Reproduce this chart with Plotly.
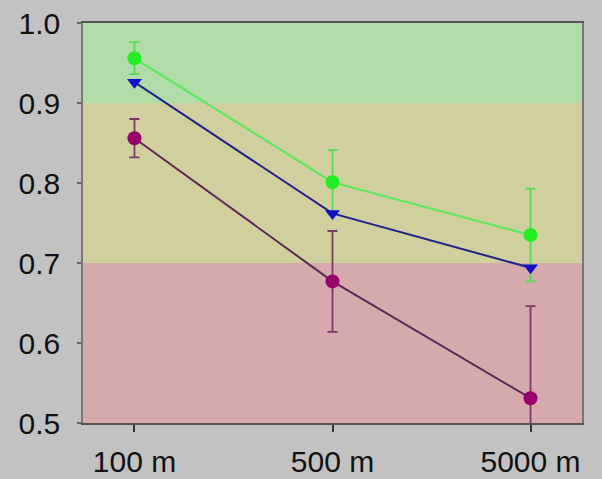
import plotly.graph_objects as go

# Distance categories
distances = ["100 m", "500 m", "5000 m"]

# Series means and error half-widths
green_vals = [0.956, 0.801, 0.735]
green_err = [0.020, 0.040, 0.058]
blue_vals = [0.926, 0.762, 0.694]
purple_vals = [0.856, 0.677, 0.531]
purple_err = [0.024, 0.063, 0.115]

# Score bands (lower, upper, colour)
band_lo = [0.9, 0.7, 0.5]
band_hi = [1.0, 0.9, 0.7]
band_colors = ["#b0dca8", "#d0d09e", "#d6aaad"]

y_ticks = [0.5, 0.6, 0.7, 0.8, 0.9, 1.0]

fig = go.Figure()

fig.add_trace(go.Scatter(
    x=distances, y=purple_vals, mode="lines+markers",
    line=dict(color="#5c2a55", width=2),
    marker=dict(symbol="circle", size=14, color="#99006b"),
    error_y=dict(type="data", array=purple_err, color="#7a3a66", thickness=1.8, width=5),
    showlegend=False,
))
fig.add_trace(go.Scatter(
    x=distances, y=green_vals, mode="lines+markers",
    line=dict(color="#5fe85f", width=2.2),
    marker=dict(symbol="circle", size=14, color="#22ee22"),
    error_y=dict(type="data", array=green_err, color="#55dd55", thickness=1.8, width=5),
    showlegend=False,
))
fig.add_trace(go.Scatter(
    x=distances, y=blue_vals, mode="lines+markers",
    line=dict(color="#22228a", width=2),
    marker=dict(symbol="triangle-down", size=13, color="#1010c8"),
    showlegend=False,
))

for lo, hi, c in zip(band_lo, band_hi, band_colors):
    fig.add_shape(type="rect", xref="paper", yref="y", x0=0, x1=1, y0=lo, y1=hi,
                  fillcolor=c, line=dict(width=0), layer="below")

fig.update_layout(
    width=602, height=479,
    margin=dict(l=83, r=20, t=23, b=56),
    paper_bgcolor="#c2c2c2",
    plot_bgcolor="#c2c2c2",
    font=dict(family="Liberation Sans, Arial, sans-serif", size=30, color="#111111"),
)
fig.update_xaxes(
    type="category", range=[-0.26, 2.26], automargin=False,
    showgrid=False, zeroline=False,
    showline=True, linecolor="#555555", linewidth=2, mirror=True,
    ticks="outside", ticklen=7, tickwidth=2, tickcolor="#333333",
    ticklabelstandoff=4,
)
fig.update_yaxes(
    range=[0.5, 1.0], tickvals=y_ticks, ticktext=[f"{v:.1f}" for v in y_ticks],
    automargin=False,
    showgrid=False, zeroline=False,
    showline=True, linecolor="#777777", linewidth=1.5, mirror=True,
    ticks="outside", ticklen=4, tickwidth=1.5, tickcolor="#666666",
    ticklabelstandoff=11,
)

fig.write_html("out.html")
